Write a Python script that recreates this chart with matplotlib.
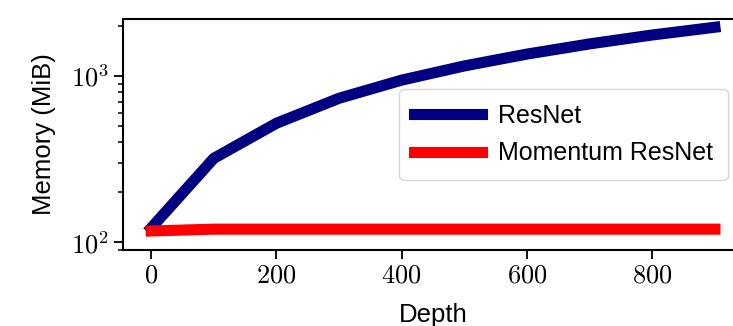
import math

import matplotlib

matplotlib.use("Agg")
import matplotlib.pyplot as plt
from matplotlib.ticker import FuncFormatter, LogLocator

# memory footprint vs depth
depths = [0, 100, 200, 300, 400, 500, 600, 700, 800, 900]
resnet_mem = [122, 320, 520, 735, 945, 1150, 1355, 1560, 1765, 1965]
momentum_mem = [117, 120, 120, 120, 120, 120, 120, 120, 120, 120]
x_ticks = [0, 200, 400, 600, 800]

plt.rcParams["mathtext.fontset"] = "cm"
plt.rcParams["font.family"] = "Liberation Sans"

fig = plt.figure(figsize=(7.33, 3.26), dpi=100)
ax = fig.add_axes([0.1678, 0.2331, 0.846, 0.7086])

ax.plot(depths, resnet_mem, color="navy", linewidth=8, label="ResNet")
ax.plot(depths, momentum_mem, color="red", linewidth=8, label="Momentum ResNet")

ax.set_yscale("log")
ax.set_ylim(89.9, 2202)
ax.set_xlim(-45, 945)
ax.set_xticks(x_ticks)
ax.xaxis.set_major_formatter(FuncFormatter(lambda v, _: rf"${int(v)}$"))
ax.yaxis.set_major_locator(LogLocator(base=10))
ax.yaxis.set_major_formatter(FuncFormatter(lambda v, _: rf"$10^{{{int(round(math.log10(v)))}}}$"))

for side in ["left", "bottom", "top", "right"]:
    ax.spines[side].set_linewidth(1.5)
ax.tick_params(axis="both", which="major", length=6.5, width=1.3, labelsize=19)
ax.tick_params(axis="y", which="minor", length=3.6, width=1.1)

ax.set_xlabel("Depth", fontsize=18.5, labelpad=11)
ax.set_ylabel("Memory (MiB)", fontsize=18.5, labelpad=11)

ax.legend(loc="center right", fontsize=18, handlelength=2.7, borderaxespad=0.6,
          handletextpad=0.65, borderpad=0.6, labelspacing=0.55, framealpha=0.8)

fig.savefig("out.png", dpi=100)
